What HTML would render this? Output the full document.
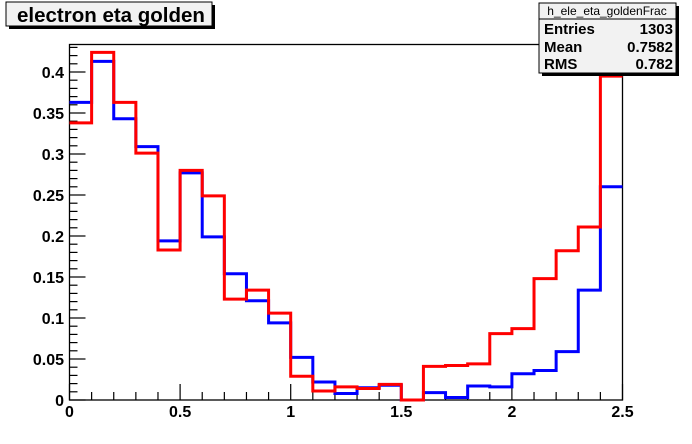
<!DOCTYPE html>
<html><head><meta charset="utf-8"><style>
body{margin:0;background:#fff;}
svg{display:block;font-family:"Liberation Sans",sans-serif;}
</style></head><body>
<svg id="c" width="692" height="444" viewBox="0 0 692 444">
<rect x="0" y="0" width="692" height="444" fill="#fff"/>
<g>
<rect x="9" y="5" width="206" height="24" fill="#000"/>
<rect x="6" y="2" width="206" height="24" fill="#f2f2f2" stroke="#000" stroke-width="1"/>
<text x="17" y="22" font-size="20.5" font-weight="bold">electron eta golden</text>
</g>
<rect x="69.5" y="44.5" width="553" height="355.5" fill="none" stroke="#000" stroke-width="1.3"/>
<g id="axes"></g>
<g id="series"></g>
<g>
<rect x="542" y="6" width="137" height="70" fill="#000"/>
<rect x="539" y="3" width="137" height="70" fill="#f2f2f2" stroke="#000" stroke-width="1"/>
<line x1="539" y1="19" x2="676" y2="19" stroke="#000"/>
<text x="607" y="15" font-size="12" text-anchor="middle">h_ele_eta_goldenFrac</text>
<text x="544" y="34" font-size="15" font-weight="bold">Entries</text>
<text x="673" y="34" font-size="15" font-weight="bold" text-anchor="end">1303</text>
<text x="544" y="52" font-size="15" font-weight="bold">Mean</text>
<text x="673" y="52" font-size="15" font-weight="bold" text-anchor="end">0.7582</text>
<text x="544" y="69" font-size="15" font-weight="bold">RMS</text>
<text x="673" y="69" font-size="15" font-weight="bold" text-anchor="end">0.782</text>
</g>
</svg>
<script>
const binEdgesStart = 0, binWidth = 0.1;
const blueValues = [0.363,0.413,0.343,0.309,0.194,0.277,0.199,0.154,0.121,0.094,0.052,0.022,0.008,0.015,0.018,0,0.009,0.003,0.017,0.016,0.032,0.036,0.059,0.134,0.26];
const redValues = [0.338,0.424,0.363,0.301,0.183,0.280,0.249,0.123,0.134,0.106,0.029,0.011,0.016,0.014,0.019,0,0.041,0.042,0.044,0.081,0.087,0.148,0.182,0.211,0.395];
const xTickLabels = ["0","0.5","1","1.5","2","2.5"];
const yTickLabels = ["0","0.05","0.1","0.15","0.2","0.25","0.3","0.35","0.4"];
const X0=69.5,X1=622.5,Y0=400,PX=820;
const xs=v=>X0+(X1-X0)*v/2.5;
const ys=v=>Y0-PX*v;
const NS="http://www.w3.org/2000/svg";
const axes=document.getElementById('axes');
function ln(x1,y1,x2,y2){const l=document.createElementNS(NS,'line');l.setAttribute('x1',x1);l.setAttribute('y1',y1);l.setAttribute('x2',x2);l.setAttribute('y2',y2);l.setAttribute('stroke','#000');l.setAttribute('stroke-width','1.2');axes.appendChild(l);return l;}
for(let i=0;i<=25;i++){const x=xs(i*0.1);const major=i%5===0;const l=ln(x,Y0,x,Y0-(major?16:8));

}
for(let i=0;i<=43;i++){const y=ys(i*0.01);const major=i%5===0;const l=ln(X0,y,X0+(major?16:8),y);

}
xTickLabels.forEach(s=>{const t=document.createElementNS(NS,'text');t.setAttribute('x',xs(parseFloat(s)));t.setAttribute('y',417);t.setAttribute('font-size','16');t.setAttribute('font-weight','bold');t.setAttribute('text-anchor','middle');t.textContent=s;


axes.appendChild(t);});
yTickLabels.forEach(s=>{const t=document.createElementNS(NS,'text');t.setAttribute('x',64);t.setAttribute('y',ys(parseFloat(s))+6);t.setAttribute('font-size','16');t.setAttribute('font-weight','bold');t.setAttribute('text-anchor','end');t.textContent=s;


axes.appendChild(t);});
function step(vals,color,name){let d='';vals.forEach((v,i)=>{const xa=xs(binEdgesStart+i*binWidth),xb=xs(binEdgesStart+(i+1)*binWidth);d+=(i===0?'M':'L')+xa+','+ys(v)+'L'+xb+','+ys(v);});
const p=document.createElementNS(NS,'path');p.setAttribute('d',d);p.setAttribute('fill','none');p.setAttribute('stroke',color);p.setAttribute('stroke-width','3');


document.getElementById('series').appendChild(p);}
step(blueValues,'#0000ff','blue-histogram');
step(redValues,'#ff0000','red-histogram');
</script>
</body></html>
